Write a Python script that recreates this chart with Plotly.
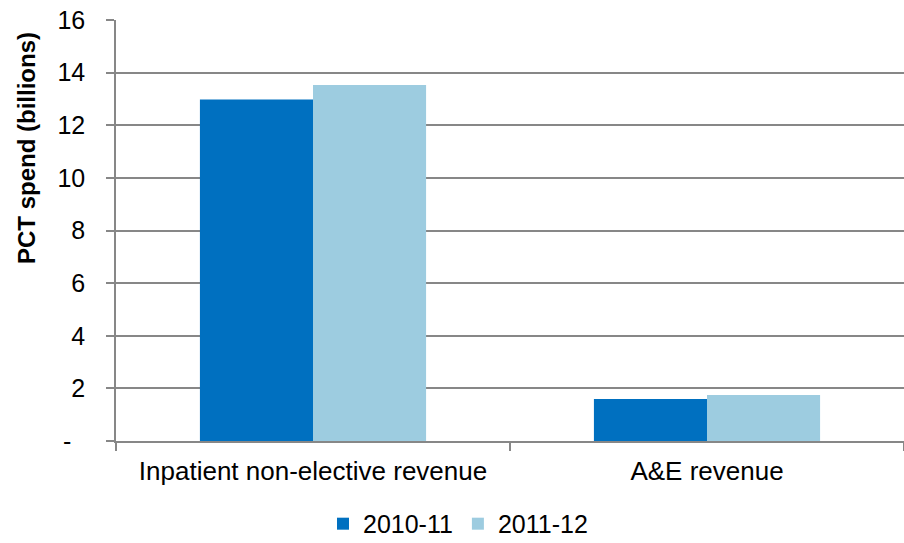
import plotly.graph_objects as go

# PCT spend by revenue category, two financial years
categories = ["Inpatient non-elective revenue", "A&E revenue"]
years = ["2010-11", "2011-12"]
spend_2010_11 = [12.98, 1.60]
spend_2011_12 = [13.53, 1.75]
y_tick_values = [0, 2, 4, 6, 8, 10, 12, 14, 16]
y_tick_labels = ["", "2", "4", "6", "8", "10", "12", "14", "16"]
zero_label = "-"  # accounting-style zero, set left of the other tick labels
y_title = "PCT spend (billions)"

colors = ["#0070C0", "#9DCCE0"]
axis_grey = "#878787"
font_family = "Liberation Sans, Arial, sans-serif"

fig = go.Figure()
for name, vals, col in zip(years, [spend_2010_11, spend_2011_12], colors):
    fig.add_trace(go.Bar(x=categories, y=vals, name=name,
                         marker=dict(color=col, line=dict(width=0))))

fig.update_layout(
    width=904, height=543,
    margin=dict(l=116, r=0, t=20, b=102, autoexpand=False),
    paper_bgcolor="white", plot_bgcolor="white",
    barmode="group", bargap=0.426, bargroupgap=0,
    font=dict(family=font_family, size=25, color="#000000"),
    showlegend=True,
    legend=dict(orientation="h", x=0.434, xanchor="center", y=-0.197, yanchor="middle",
                font=dict(size=25), traceorder="normal"),
)
fig.update_xaxes(
    showline=True, linecolor=axis_grey, linewidth=1.5,
    ticks="outside", tickson="boundaries", ticklen=8, tickcolor=axis_grey,
    tickwidth=1.5, tickfont=dict(size=26), ticklabelstandoff=6,
    showgrid=False, automargin=False,
)
fig.update_yaxes(
    range=[0, 16], tickvals=y_tick_values, ticktext=y_tick_labels,
    showgrid=True, gridcolor=axis_grey, gridwidth=1.5,
    showline=True, linecolor=axis_grey, linewidth=1.5,
    ticks="outside", ticklen=8, tickcolor=axis_grey, tickwidth=1.5,
    tickfont=dict(size=25), ticklabelstandoff=16,
    zeroline=False, automargin=False,
)

fig.add_annotation(
    text=zero_label, xref="paper", x=-(116 - 67) / 788, xanchor="center",
    yref="y", y=y_tick_values[0], yanchor="middle",
    showarrow=False, font=dict(size=25, family=font_family),
)

# Axis title sits above the vertical middle of the plot area
fig.add_annotation(
    text=f"<b>{y_title}</b>", textangle=-90,
    xref="paper", x=-(116 - 26) / 788, xanchor="center",
    yref="paper", y=(441 - 148) / 421, yanchor="middle",
    showarrow=False, font=dict(size=24, family=font_family),
)

fig.write_html("out.html")
